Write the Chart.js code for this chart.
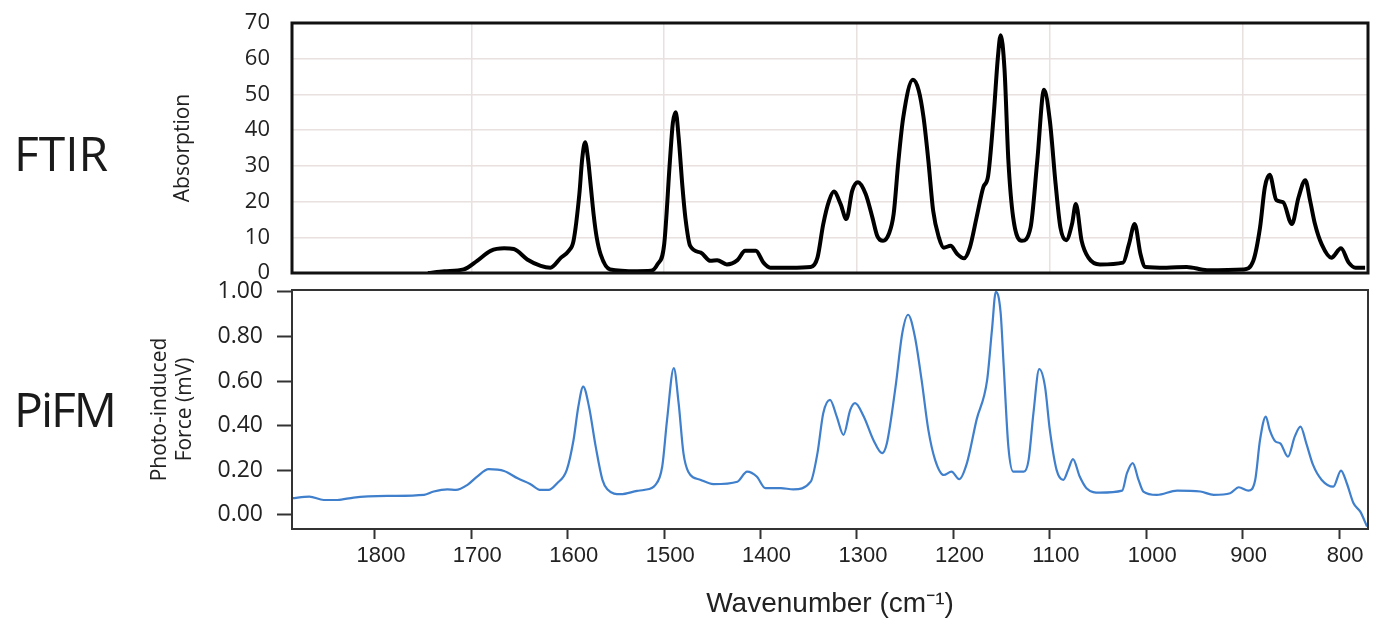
<!DOCTYPE html>
<html>
<head>
<meta charset="utf-8">
<title>FTIR vs PiFM</title>
<script src="https://cdn.jsdelivr.net/npm/chart.js@4.4.1/dist/chart.umd.min.js"></script>
<style>
    body { margin: 0; background: #fff; }
    .page { position: relative; width: 1376px; height: 625px; overflow: hidden; }
    canvas { position: absolute; left: 0; }
    #ftirChart { top: 0; }
    #pifmChart { top: 280px; }
    .side-label {
        position: absolute;
        left: 14px;
        font-family: 'Open Sans', sans-serif;
        font-size: 48px;
        line-height: 48px;
        color: #1a1a1a;
    }
</style>
</head>
<body>
<div class="page">
    <canvas id="ftirChart" width="1376" height="290"></canvas>
    <canvas id="pifmChart" width="1376" height="345"></canvas>
    <div class="side-label" style="top:129px">FTIR</div>
    <div class="side-label" style="top:385px; letter-spacing:-2px">PiFM</div>
</div>
<script>
// shared wavenumber range (axis runs high -> low)
const xMin = 770;
const xMax = 1886;
const xTickValues = [1800, 1700, 1600, 1500, 1400, 1300, 1200, 1100, 1000, 900, 800];
const ftirGridValues = [1700, 1500, 1300, 1100, 900];

// FTIR spectrum
const ftirWavenumber = [
    1745, 1728, 1708, 1694, 1680, 1666, 1656, 1642, 1628, 1618,
    1607, 1599, 1594, 1588, 1585, 1582, 1579, 1576, 1573, 1570,
    1566, 1556, 1528, 1514, 1507, 1500, 1494, 1491, 1488, 1485,
    1481, 1478, 1473, 1462, 1452, 1445, 1435, 1424, 1416, 1405,
    1397, 1390, 1369, 1348, 1341, 1335, 1329, 1324, 1317, 1311,
    1305, 1299, 1291, 1284, 1279, 1273, 1267, 1262, 1257, 1252,
    1242, 1236, 1231, 1226, 1221, 1215, 1210, 1203, 1196, 1189,
    1183, 1176, 1169, 1164, 1158, 1154, 1151, 1147, 1143, 1138,
    1129, 1120, 1113, 1106, 1100, 1094, 1089, 1083, 1077, 1073,
    1067, 1060, 1048, 1024, 1018, 1012, 1006, 1001, 979, 958,
    937, 899, 889, 882, 877, 872, 865, 858, 849, 842,
    835, 830, 825, 818, 808, 798, 790, 783, 773
];
const ftirAbsorption = [
    0, 0.5, 1.0, 3.4, 6.2, 6.9, 6.7, 3.8, 2.0, 1.5,
    4.3, 6.2, 9.0, 22, 32, 36.6, 32, 24, 16, 10,
    5.3, 1.0, 0.5, 0.6, 2.4, 8.0, 31.5, 42, 45, 38,
    24, 15.5, 7.6, 5.7, 3.4, 3.6, 2.4, 3.6, 6.2, 6.2,
    2.9, 1.5, 1.5, 1.7, 4.3, 13.7, 20.2, 22.8, 19.3, 15.1,
    23.0, 25.4, 22.1, 15.5, 10.4, 9.0, 10.9, 16.5, 31.5, 43.6,
    54.1, 51.1, 43.6, 31.5, 17.4, 9.9, 7.1, 7.6, 5.3, 4.1,
    7.1, 15.5, 24.0, 27.2, 45, 60, 66.6, 57, 31.5, 15.5,
    9.0, 12.7, 31.5, 51.3, 42.7, 24.9, 12.7, 9.2, 13.7, 19.3,
    9.0, 4.3, 2.4, 2.9, 8.0, 13.7, 5.3, 1.7, 1.5, 1.7,
    0.8, 1.0, 3.4, 12.7, 24.0, 27.5, 20.4, 19.8, 13.7, 21.2,
    26.0, 20.2, 13.7, 8.0, 4.3, 6.9, 2.9, 1.5, 1.5
];

// PiFM spectrum (mV)
const pifmWavenumber = [
    1886, 1868, 1853, 1839, 1822, 1787, 1749, 1739, 1725, 1716,
    1704, 1694, 1682, 1666, 1652, 1639, 1628, 1620, 1611, 1601,
    1594, 1589, 1584, 1578, 1571, 1564, 1559, 1545, 1528, 1521,
    1509, 1502, 1497, 1490, 1485, 1480, 1475, 1462, 1449, 1424,
    1414, 1404, 1395, 1379, 1366, 1348, 1341, 1335, 1328, 1321,
    1314, 1307, 1302, 1293, 1283, 1274, 1269, 1260, 1253, 1247,
    1240, 1233, 1226, 1219, 1210, 1202, 1194, 1186, 1176, 1165,
    1160, 1156, 1151, 1148, 1143, 1138, 1127, 1122, 1117, 1111,
    1105, 1100, 1093, 1086, 1081, 1076, 1069, 1062, 1048, 1025,
    1020, 1014, 1008, 1003, 989, 968, 944, 930, 913, 904,
    894, 887, 882, 876, 872, 866, 861, 853, 846, 840,
    834, 827, 818, 806, 798, 792, 785, 778, 771
];
const pifmForce = [
    0.075, 0.082, 0.067, 0.067, 0.078, 0.085, 0.090, 0.105, 0.115, 0.112,
    0.135, 0.172, 0.205, 0.197, 0.164, 0.139, 0.112, 0.112, 0.142, 0.202,
    0.336, 0.486, 0.575, 0.486, 0.306, 0.157, 0.115, 0.093, 0.108, 0.112,
    0.135, 0.217, 0.426, 0.658, 0.501, 0.277, 0.194, 0.157, 0.138, 0.149,
    0.194, 0.172, 0.120, 0.120, 0.115, 0.149, 0.277, 0.456, 0.516, 0.441,
    0.359, 0.471, 0.501, 0.441, 0.336, 0.277, 0.321, 0.575, 0.815, 0.897,
    0.800, 0.605, 0.381, 0.247, 0.179, 0.194, 0.160, 0.232, 0.426, 0.605,
    0.830, 1.0, 0.905, 0.680, 0.306, 0.194, 0.194, 0.247, 0.456, 0.653,
    0.575, 0.381, 0.202, 0.157, 0.202, 0.250, 0.172, 0.120, 0.100, 0.109,
    0.187, 0.232, 0.157, 0.105, 0.090, 0.109, 0.105, 0.090, 0.097, 0.124,
    0.109, 0.157, 0.336, 0.441, 0.381, 0.329, 0.321, 0.261, 0.351, 0.396,
    0.321, 0.224, 0.157, 0.127, 0.199, 0.142, 0.052, 0.015, -0.052
];
const pifmTickValues = [0, 0.2, 0.4, 0.6, 0.8, 1.0];

const openSans = "'Open Sans', sans-serif";

// draws the closed box round the plot area
const framePlugin = (color, width) => ({
    id: 'frame',
    afterDatasetsDraw(chart) {
        const { ctx, chartArea } = chart;
        ctx.save();
        ctx.strokeStyle = color;
        ctx.lineWidth = width;
        ctx.strokeRect(chartArea.left, chartArea.top,
            chartArea.right - chartArea.left, chartArea.bottom - chartArea.top);
        ctx.restore();
    }
});

// keep the plot area where the picture has it: no extra room for half labels
const noLabelPadding = (scale) => {
    scale.paddingTop = 0;
    scale.paddingBottom = 0;
    scale.paddingLeft = 0;
    scale.paddingRight = 0;
};

const toPoints = (xs, ys) => xs.map((x, i) => ({ x: x, y: ys[i] }));

new Chart(document.getElementById('ftirChart'), {
    type: 'line',
    data: {
        datasets: [{
            data: toPoints(ftirWavenumber, ftirAbsorption),
            borderColor: '#000',
            borderWidth: 4,
            pointRadius: 0,
            cubicInterpolationMode: 'monotone'
        }]
    },
    options: {
        responsive: false,
        animation: false,
        devicePixelRatio: 1,
        layout: { padding: { top: 23, right: 8, bottom: 17, left: 0 } },
        plugins: { legend: { display: false }, tooltip: { enabled: false } },
        scales: {
            x: {
                type: 'linear',
                reverse: true,
                min: xMin,
                max: xMax,
                afterBuildTicks: (scale) => { scale.ticks = ftirGridValues.map(v => ({ value: v })); },
                ticks: { display: false },
                grid: { color: '#e9e0e0', lineWidth: 1.5, drawTicks: false },
                border: { display: false },
                afterFit: (scale) => { scale.height = 0; noLabelPadding(scale); }
            },
            y: {
                min: 0,
                max: 70,
                ticks: { stepSize: 10, padding: 22, font: { family: openSans, size: 22 }, color: '#222' },
                grid: { color: '#e9e0e0', lineWidth: 1.5, drawTicks: false },
                border: { display: false },
                title: {
                    display: true,
                    text: 'Absorption',
                    font: { family: openSans, size: 21 },
                    color: '#222',
                    padding: { top: 170, bottom: 0 }
                },
                afterFit: (scale) => { scale.width = 292; noLabelPadding(scale); }
            }
        }
    },
    plugins: [framePlugin('#111', 3)]
});

new Chart(document.getElementById('pifmChart'), {
    type: 'line',
    data: {
        datasets: [{
            data: toPoints(pifmWavenumber, pifmForce),
            borderColor: '#3f7fcb',
            borderWidth: 2.2,
            pointRadius: 0,
            cubicInterpolationMode: 'monotone'
        }]
    },
    options: {
        responsive: false,
        animation: false,
        devicePixelRatio: 1,
        layout: { padding: { top: 10, right: 8, bottom: 0, left: 0 } },
        plugins: { legend: { display: false }, tooltip: { enabled: false } },
        scales: {
            x: {
                type: 'linear',
                reverse: true,
                min: xMin,
                max: xMax,
                afterBuildTicks: (scale) => { scale.ticks = xTickValues.map(v => ({ value: v })); },
                ticks: {
                    padding: 4,
                    labelOffset: 6,
                    font: { family: "'Liberation Sans', Arial, sans-serif", size: 22 },
                    color: '#222',
                    callback: (value) => String(value)
                },
                grid: { drawOnChartArea: false, tickLength: 10, tickWidth: 2, tickColor: '#333' },
                border: { display: false },
                title: {
                    display: true,
                    text: 'Wavenumber (cm⁻¹)',
                    font: { family: "'Liberation Sans', sans-serif", size: 28 },
                    color: '#222',
                    padding: { top: 0, bottom: 4 }
                },
                afterFit: (scale) => { scale.height = 96; noLabelPadding(scale); }
            },
            y: {
                min: -0.063,
                max: 1.008,
                afterBuildTicks: (scale) => { scale.ticks = pifmTickValues.map(v => ({ value: v })); },
                ticks: {
                    padding: 14,
                    font: { family: openSans, size: 23 },
                    color: '#222',
                    callback: (value) => value.toFixed(2)
                },
                grid: { drawOnChartArea: false, tickLength: 15, tickWidth: 2, tickColor: '#333' },
                border: { display: false },
                title: {
                    display: true,
                    text: ['Photo-induced', 'Force (mV)'],
                    font: { family: openSans, size: 21, lineHeight: 1.2 },
                    color: '#222',
                    padding: { top: 147, bottom: 0 }
                },
                afterFit: (scale) => { scale.width = 292; noLabelPadding(scale); }
            }
        }
    },
    plugins: [framePlugin('#333', 2)]
});
</script>
</body>
</html>
